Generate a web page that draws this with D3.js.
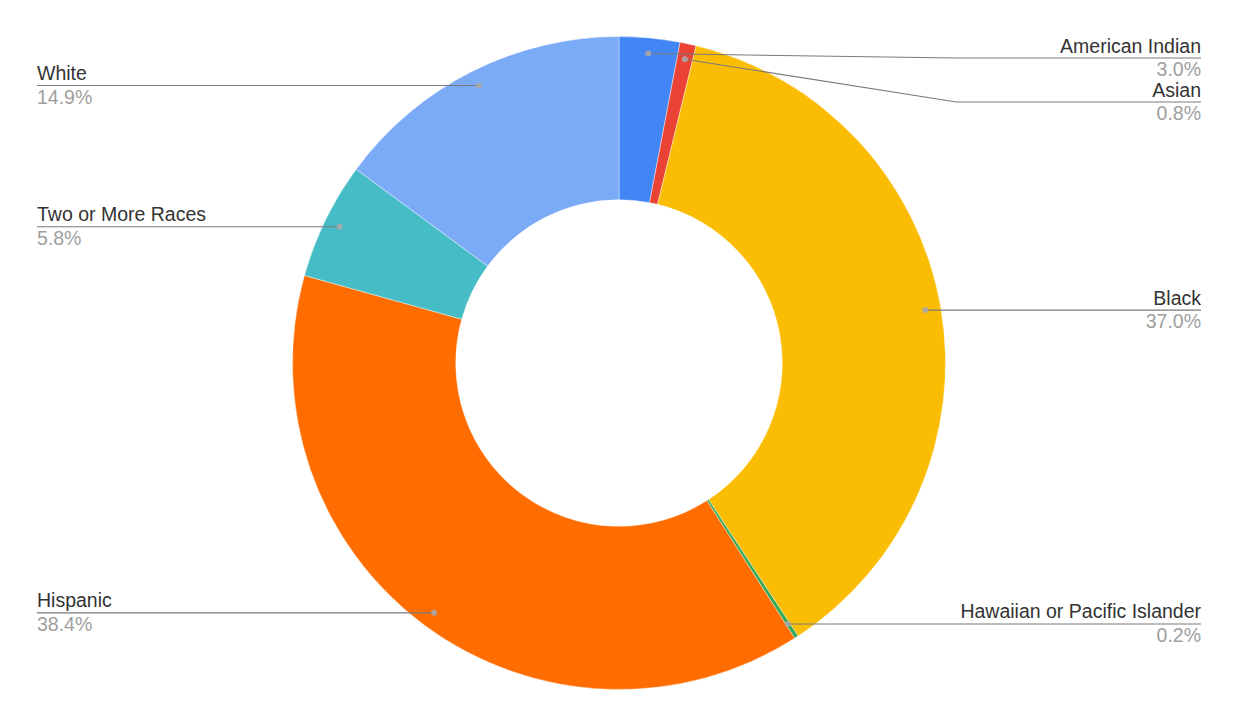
<!DOCTYPE html>
<html>
<head>
<meta charset="utf-8">
<script src="https://cdn.jsdelivr.net/npm/d3@7"></script>
<style>
  html, body { margin: 0; padding: 0; background: #fff; }
  svg { display: block; }
  text { font-family: "Liberation Sans", Arial, sans-serif; }
</style>
</head>
<body>
<svg id="chart" width="1240" height="728"></svg>
<script>
const categories = ["American Indian", "Asian", "Black", "Hawaiian or Pacific Islander", "Hispanic", "Two or More Races", "White"];
const values = [3.0, 0.8, 37.0, 0.2, 38.4, 5.8, 14.9];
const colors = ["#4285F4", "#EA4335", "#FBBC04", "#34A853", "#FF6D01", "#46BDC6", "#7BAAF7"];

const W = 1240, H = 728;
const cx = 619, cy = 363;
const outerR = 326.5, innerR = outerR * 0.5;
const dotR = outerR * 0.952;
const leftX = 37, rightX = 1201;
const elbowX = cx + outerR + 11;
const topMin = 58, minGap = 44;
const fontSize = 19.5;

const svg = d3.select("#chart");
const total = d3.sum(values);
const fmt = d3.format(".1%");

const data = categories.map((c, i) => ({ name: c, value: values[i], color: colors[i] }));
const pie = d3.pie().sort(null).value(d => d.value).startAngle(0).endAngle(2 * Math.PI);
const arcs = pie(data);
const arc = d3.arc().innerRadius(innerR).outerRadius(outerR);

const g = svg.append("g").attr("transform", `translate(${cx},${cy})`);
g.selectAll("path").data(arcs).join("path")
  .attr("d", arc)
  .attr("fill", d => d.data.color)
  .attr("stroke", "#fff")
  .attr("stroke-width", 0.4);

// label layout
const labels = arcs.map(a => {
  const ang = (a.startAngle + a.endAngle) / 2;
  const x = cx + dotR * Math.sin(ang);
  const y = cy - dotR * Math.cos(ang);
  return { a, x, y, side: x < cx ? "left" : "right", name: a.data.name, pct: fmt(a.data.value / total) };
});
["left", "right"].forEach(side => {
  const list = labels.filter(l => l.side === side).sort((p, q) => p.y - q.y);
  let prev = -Infinity;
  list.forEach(l => {
    l.ly = Math.max(l.y, topMin, prev + minGap);
    prev = l.ly;
  });
});

const lg = svg.append("g");
labels.forEach(l => {
  const endX = l.side === "left" ? leftX : rightX;
  let pts;
  if (Math.abs(l.ly - l.y) > 1) {
    const ex = l.side === "left" ? cx - (elbowX - cx) : elbowX;
    pts = [[l.x, l.y], [ex, l.ly], [endX, l.ly]];
  } else {
    pts = [[l.x, l.y], [endX, l.y]];
    l.ly = l.y;
  }
  lg.append("path")
    .attr("d", d3.line()(pts))
    .attr("fill", "none")
    .attr("stroke", "#7a7a7a")
    .attr("stroke-width", 1.1);
  lg.append("circle")
    .attr("cx", l.x).attr("cy", l.y).attr("r", 3)
    .attr("fill", "#a8a8a8").attr("opacity", 0.9);
  const anchor = l.side === "left" ? "start" : "end";
  lg.append("text")
    .attr("x", endX).attr("y", l.ly - 5.5)
    .attr("text-anchor", anchor)
    .attr("font-size", fontSize)
    .attr("fill", "#333")
    .text(l.name);
  lg.append("text")
    .attr("x", endX).attr("y", l.ly + 18)
    .attr("text-anchor", anchor)
    .attr("font-size", fontSize)
    .attr("fill", "#9e9e9e")
    .text(l.pct);
});
</script>
</body>
</html>
